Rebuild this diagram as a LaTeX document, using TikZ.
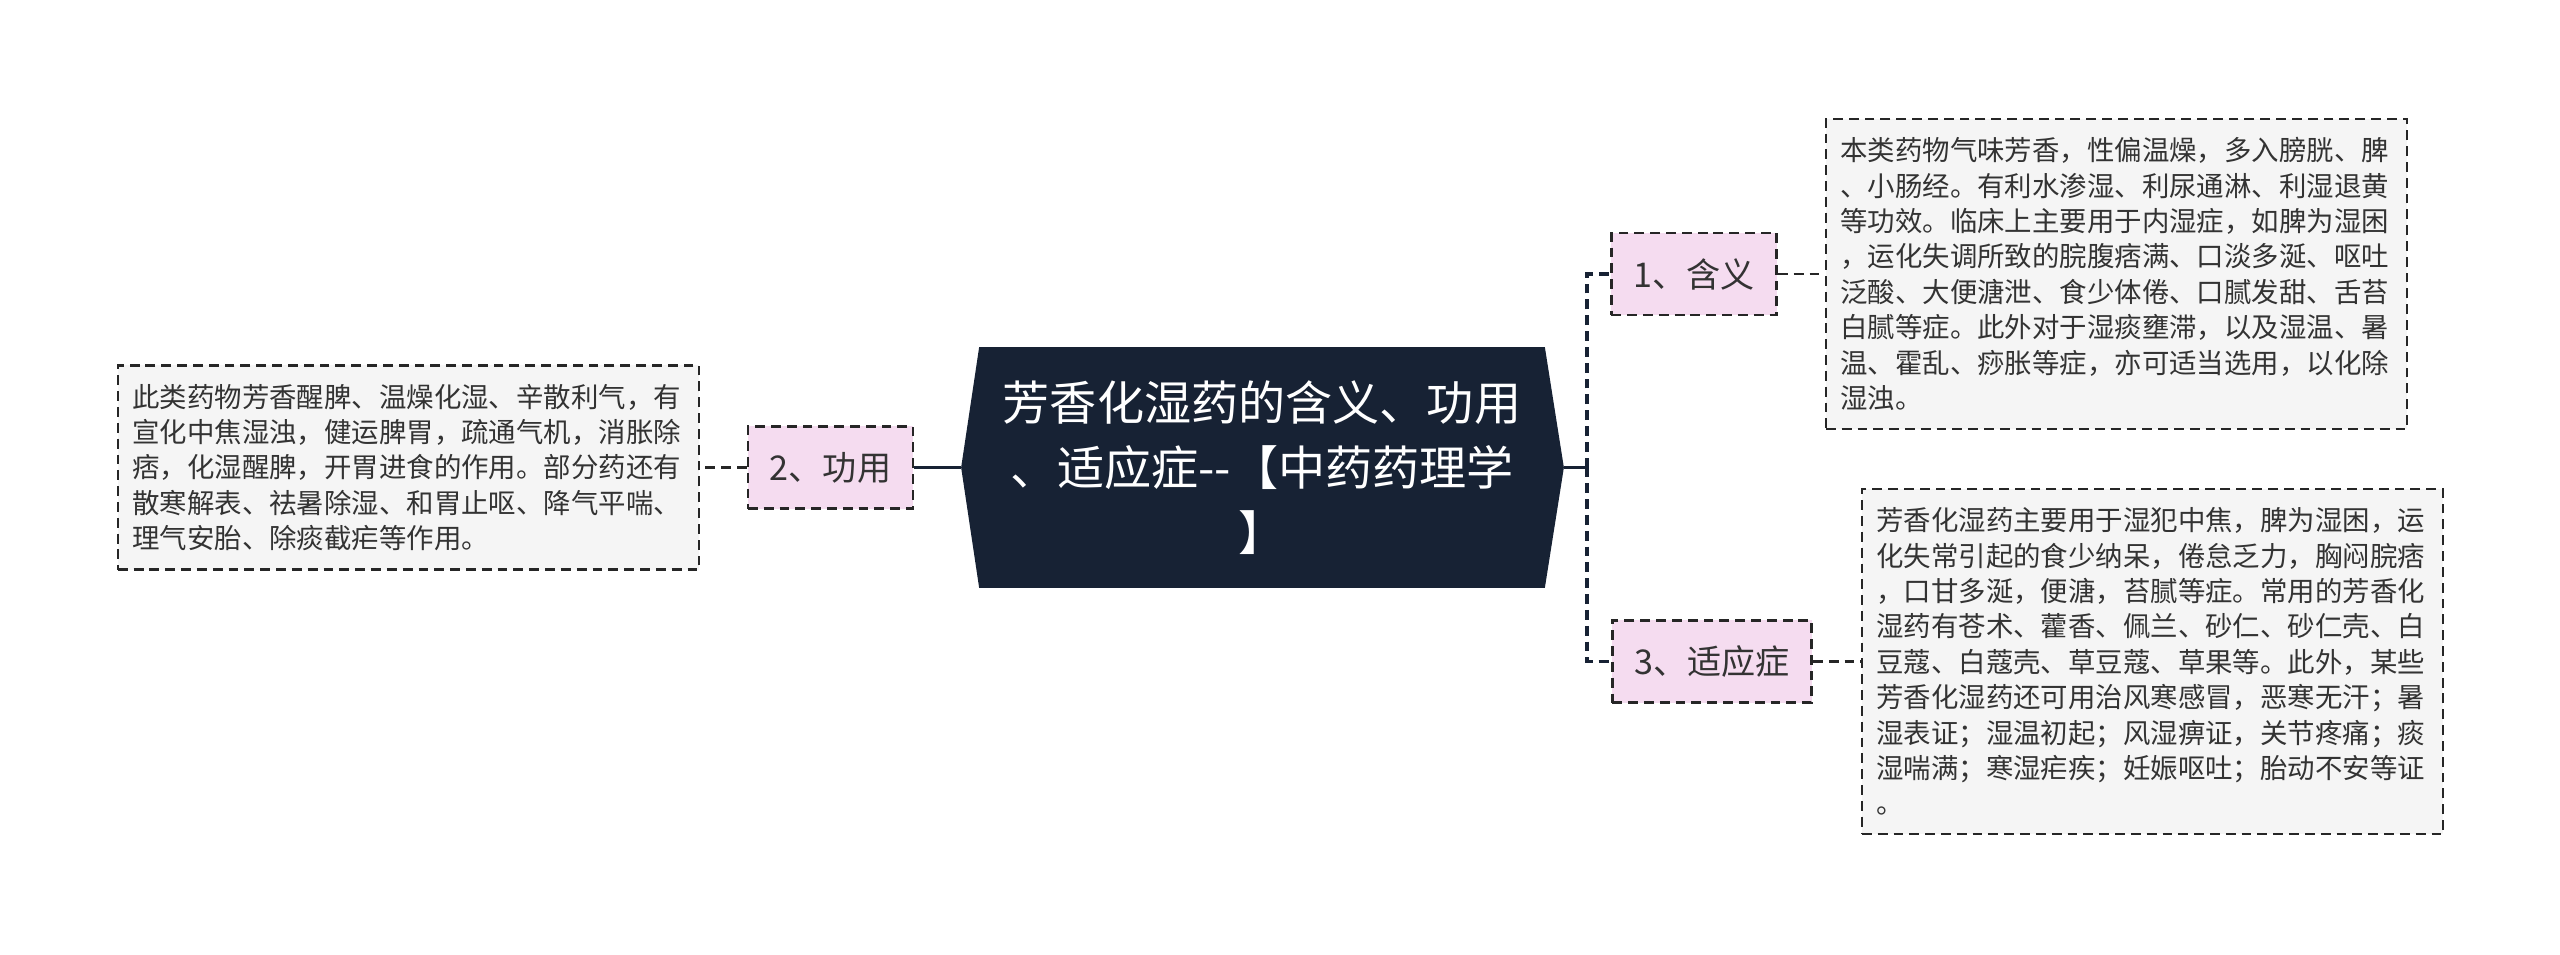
\documentclass[tikz,border=0pt]{standalone}
\usepackage{fontspec}
\newfontfamily\cjk{Noto Sans CJK SC}
\usetikzlibrary{positioning,calc,backgrounds}
\definecolor{navy}{HTML}{172234}
\definecolor{pinkfill}{HTML}{F5DCF0}
\definecolor{boxfill}{HTML}{F5F5F5}
\definecolor{inkgray}{HTML}{333333}
\definecolor{edgegray}{HTML}{262626}
\tikzset{
  dash16/.style={dash pattern=on 2.8pt off 1.7pt},
  title/.style={inner sep=0pt, minimum width=5.64cm, minimum height=2.39cm, align=center,
    text=white, font=\cjk\fontsize{13.4pt}{18.5pt}\selectfont},
  label/.style={draw=edgegray, dash16, line width=0.7pt, fill=pinkfill, text=inkgray,
    inner xsep=0.22cm, inner ysep=0pt, minimum height=0.82cm,
    font=\cjk\fontsize{9.7pt}{12pt}\selectfont},
  note/.style={draw=edgegray, dash16, line width=0.7pt, fill=boxfill, text=inkgray,
    text width=5.52cm, align=left, inner xsep=0.145cm, inner ysep=0pt,
    font=\cjk\fontsize{7.8pt}{10.07pt}\selectfont},
  trunk/.style={draw=navy, line width=1pt},
  branch/.style={draw=navy, line width=1pt, dash16},
  leaf/.style={draw=edgegray, line width=0.7pt, dash16},
}
\begin{document}
\begin{tikzpicture}[x=0.01cm, y=-0.01cm]
\useasboundingbox (0,0) rectangle (2560,954);
\node[title] (title) at (1262,467.5) {芳香化湿药的含义、功用\\、适应症-{}-【中药药理学\\】};
\coordinate (tipL) at ($(title.west)+(-18,0)$);
\coordinate (tipR) at ($(title.east)+(19,0)$);
\coordinate (fork) at (1587,467.5);

\node[label] (l1) at (1694,274) {1、含义};
\node[label] (l2) at (830.5,467.5) {2、功用};
\node[label] (l3) at (1712,661.5) {3、适应症};

\node[note, minimum height=3.10cm] (b1) at (2116.5,274) {本类药物气味芳香，性偏温燥，多入膀胱、脾\\、小肠经。有利水渗湿、利尿通淋、利湿退黄\\等功效。临床上主要用于内湿症，如脾为湿困\\，运化失调所致的脘腹痞满、口淡多涎、呕吐\\泛酸、大便溏泄、食少体倦、口腻发甜、舌苔\\白腻等症。此外对于湿痰壅滞，以及湿温、暑\\温、霍乱、痧胀等症，亦可适当选用，以化除\\湿浊。};
\node[note, minimum height=2.04cm] (b2) at (408.5,467.5) {此类药物芳香醒脾、温燥化湿、辛散利气，有\\宣化中焦湿浊，健运脾胃，疏通气机，消胀除\\痞，化湿醒脾，开胃进食的作用。部分药还有\\散寒解表、祛暑除湿、和胃止呕、降气平喘、\\理气安胎、除痰截疟等作用。};
\node[note, minimum height=3.45cm] (b3) at (2152.5,661.5) {芳香化湿药主要用于湿犯中焦，脾为湿困，运\\化失常引起的食少纳呆，倦怠乏力，胸闷脘痞\\，口甘多涎，便溏，苔腻等症。常用的芳香化\\湿药有苍术、藿香、佩兰、砂仁、砂仁壳、白\\豆蔻、白蔻壳、草豆蔻、草果等。此外，某些\\芳香化湿药还可用治风寒感冒，恶寒无汗；暑\\湿表证；湿温初起；风湿痹证，关节疼痛；痰\\湿喘满；寒湿疟疾；妊娠呕吐；胎动不安等证\\。};

\begin{pgfonlayer}{background}
  \fill[navy] (title.north west) -- (title.north east) -- (tipR) -- (title.south east)
    -- (title.south west) -- (tipL) -- cycle;
  \draw[trunk] (tipL) -- (l2.east);
  \draw[trunk] (tipR) -- (fork);
  \draw[branch] (fork) |- (l1.west);
  \draw[branch] (fork) |- (l3.west);
  \draw[leaf] (l1.east) -- (b1.west);
  \draw[leaf] (l2.west) -- (b2.east);
  \draw[leaf] (l3.east) -- (b3.west);
\end{pgfonlayer}
\end{tikzpicture}
\end{document}
